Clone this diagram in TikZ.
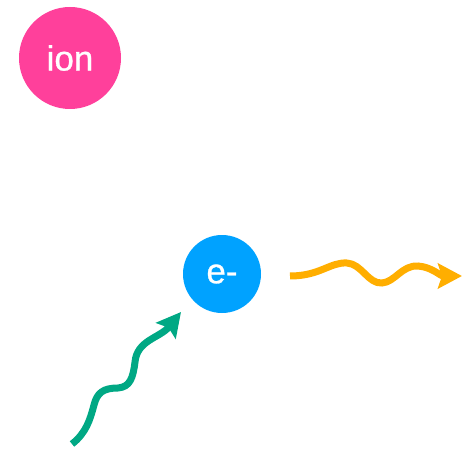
\documentclass[tikz,border=0pt]{standalone}
\usepackage{fontspec}
\setmainfont{Liberation Sans}
\newfontfamily\labelfont[FakeBold=0.8]{Liberation Sans}
\usetikzlibrary{arrows.meta}
\definecolor{ionpink}{RGB}{255,64,155}
\definecolor{eblue}{RGB}{0,162,255}
\definecolor{wgreen}{RGB}{0,168,132}
\definecolor{worange}{RGB}{255,174,0}
\tikzset{
  particle/.style={circle, inner sep=0pt, text=white, font=\labelfont\fontsize{35}{40}\selectfont},
  wave/.style={line width=7pt, -{Stealth[length=24pt, width=25pt, inset=4pt]}},
}
\begin{document}
\begin{tikzpicture}[x=1pt,y=-1pt]
\useasboundingbox (0,0) rectangle (463,449);
\node[particle, fill=ionpink, minimum size=102pt] (ion) at (70,58) {ion};
\node[particle, fill=eblue, minimum size=78pt] (e) at (222,274) {e-};
\coordinate (gs) at (72,444);
\coordinate (ge) at (181,312);
\coordinate (os) at (290,276);
\coordinate (oe) at (462,276);
\draw[wave, wgreen] (gs) .. controls (86,433) and (90,420) .. (94,405)
  .. controls (97,393) and (103,388) .. (118,388)
  .. controls (130,387) and (133,378) .. (135,362)
  .. controls (137,340) and (160,338) .. (ge);
\draw[wave, worange] (os) .. controls (320,276) and (330,262) .. (347,263)
  .. controls (362,264) and (368,284) .. (382,283)
  .. controls (395,282) and (402,265) .. (418,266)
  .. controls (432,267) and (440,276) .. (oe);
\end{tikzpicture}
\end{document}
